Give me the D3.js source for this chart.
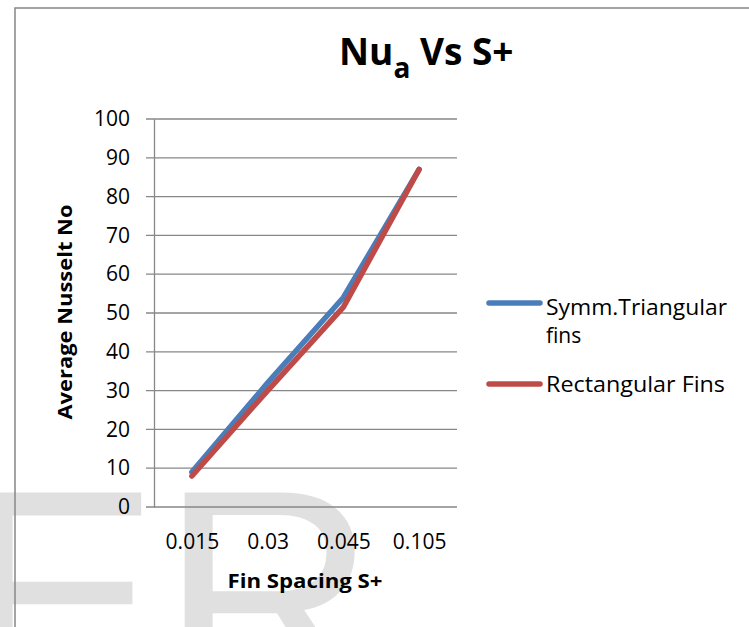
<!DOCTYPE html>
<html>
<head>
<meta charset="UTF-8">
<title>Nua Vs S+</title>
<script src="https://d3js.org/d3.v7.min.js"></script>
<style>
    body {
        margin: 0;
        background: #fff;
    }
    text {
        font-family: "Open Sans", sans-serif;
    }
</style>
</head>
<body>
<script>
    // values
    const spacing = ["0.015", "0.03", "0.045", "0.105"];
    const triangular = [9, 32, 54, 87];
    const rectangular = [8, 30, 51.5, 87];
    const seriesNames = ["Symm.Triangular fins", "Rectangular Fins"];
    const yTicks = [0, 10, 20, 30, 40, 50, 60, 70, 80, 90, 100];

    const width = 749, height = 627;
    const plot = {left: 154, right: 457, top: 119, bottom: 507};

    const svg = d3.select("body").append("svg")
        .attr("width", width)
        .attr("height", height);

    // faint watermark behind everything
    svg.append("text")
        .attr("x", -40)
        .attr("y", 699)
        .style("font-family", "'Liberation Sans', Arial, sans-serif")
        .style("font-size", "300px")
        .attr("fill", "#e0e0e0")
        .text("ER");

    // chart frame, runs off the right and bottom of the page
    svg.append("rect")
        .attr("x", 15)
        .attr("y", 8)
        .attr("width", 800)
        .attr("height", 700)
        .attr("fill", "none")
        .attr("stroke", "#878787")
        .attr("stroke-width", 1.5);

    const x = d3.scalePoint().domain(spacing).range([plot.left, plot.right]).padding(0.5);
    const y = d3.scaleLinear().domain([0, 100]).range([plot.bottom, plot.top]);

    // gridlines
    svg.append("g")
        .selectAll("line")
        .data(yTicks)
        .join("line")
        .attr("x1", plot.left - 8)
        .attr("x2", plot.right)
        .attr("y1", d => y(d))
        .attr("y2", d => y(d))
        .attr("stroke", "#878787")
        .attr("stroke-width", 1.3);

    // y axis
    const yAxis = svg.append("g")
        .attr("transform", `translate(${plot.left},0)`)
        .call(d3.axisLeft(y).tickValues(yTicks).tickSize(0).tickPadding(24));
    yAxis.select(".domain").attr("stroke", "#878787").attr("stroke-width", 1.3);
    yAxis.selectAll("text")
        .style("font-size", "21px")
        .attr("fill", "#000");

    // x axis labels only
    const xAxis = svg.append("g")
        .attr("transform", `translate(0,${plot.bottom})`)
        .call(d3.axisBottom(x).tickSize(0).tickPadding(0));
    xAxis.select(".domain").remove();
    xAxis.selectAll("text")
        .attr("dy", null)
        .attr("y", 42)
        .style("font-size", "21px")
        .attr("fill", "#000");

    const line = d3.line()
        .x((d, i) => x(spacing[i]))
        .y(d => y(d));

    const colors = ["#4a7ebb", "#be4b48"];
    [triangular, rectangular].forEach((s, k) => {
        svg.append("path")
            .datum(s)
            .attr("d", line)
            .attr("fill", "none")
            .attr("stroke", colors[k])
            .attr("stroke-width", 5.5)
            .attr("stroke-linecap", "round")
            .attr("stroke-linejoin", "round");
    });

    // title
    const title = svg.append("text")
        .attr("x", 339)
        .attr("y", 65)
        .style("font-weight", "bold")
        .style("font-size", "37px")
        .attr("fill", "#000");
    title.append("tspan").text("Nu");
    title.append("tspan").attr("dy", 13).style("font-size", "28px").text("a");
    title.append("tspan").attr("dy", -13).text(" Vs S+");

    // axis titles
    svg.append("text")
        .attr("x", 305)
        .attr("y", 588)
        .attr("text-anchor", "middle")
        .style("font-weight", "bold")
        .style("font-size", "20px")
        .attr("textLength", 155)
        .attr("lengthAdjust", "spacingAndGlyphs")
        .text("Fin Spacing S+");

    svg.append("text")
        .attr("transform", "translate(72,312) rotate(-90)")
        .attr("text-anchor", "middle")
        .style("font-weight", "bold")
        .style("font-size", "19px")
        .attr("textLength", 215)
        .attr("lengthAdjust", "spacingAndGlyphs")
        .text("Average Nusselt No");

    // legend
    const legend = svg.append("g");
    const legendY = [303, 384];
    legend.selectAll("line")
        .data(seriesNames)
        .join("line")
        .attr("x1", 489)
        .attr("x2", 540)
        .attr("y1", (d, i) => legendY[i])
        .attr("y2", (d, i) => legendY[i])
        .attr("stroke", (d, i) => colors[i])
        .attr("stroke-width", 5.5)
        .attr("stroke-linecap", "round");

    legend.append("text")
        .attr("x", 546).attr("y", 315)
        .style("font-size", "21px")
        .attr("textLength", 181)
        .attr("lengthAdjust", "spacingAndGlyphs")
        .text("Symm.Triangular");
    legend.append("text")
        .attr("x", 546).attr("y", 343)
        .style("font-size", "21px")
        .text("fins");
    legend.append("text")
        .attr("x", 546).attr("y", 392)
        .style("font-size", "21px")
        .attr("textLength", 179)
        .attr("lengthAdjust", "spacingAndGlyphs")
        .text("Rectangular Fins");
</script>
</body>
</html>
